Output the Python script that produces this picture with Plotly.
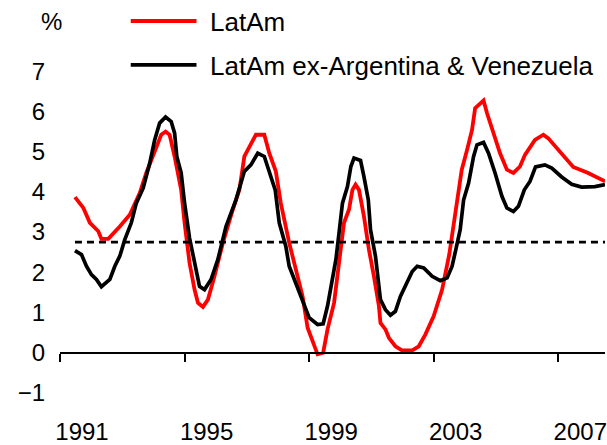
import plotly.graph_objects as go

# ---- data ----
series_names = ["LatAm", "LatAm ex-Argentina & Venezuela"]
series_colors = ["#FF0000", "#000000"]

latam_years = [1991.48, 1991.75, 1991.96, 1992.23, 1992.33, 1992.55, 1992.92, 1993.24, 1993.56, 1993.77,
               1994.04, 1994.25, 1994.39, 1994.52, 1994.68, 1994.89, 1995.00, 1995.16, 1995.32, 1995.43,
               1995.59, 1995.75, 1995.96, 1996.23, 1996.55, 1996.76, 1996.92, 1997.13, 1997.29, 1997.56,
               1997.72, 1997.93, 1998.09, 1998.36, 1998.57, 1998.79, 1998.95, 1999.16, 1999.27, 1999.45,
               1999.59, 1999.80, 1999.96, 2000.12, 2000.28, 2000.39, 2000.49, 2000.60, 2000.76, 2000.92,
               2001.08, 2001.24, 2001.29, 2001.45, 2001.56, 2001.77, 2001.98, 2002.31, 2002.52, 2002.73,
               2003.00, 2003.27, 2003.50, 2003.69, 2003.90, 2004.07, 2004.23, 2004.33, 2004.49, 2004.60,
               2004.71, 2004.92, 2005.13, 2005.35, 2005.56, 2005.77, 2005.93, 2006.25, 2006.52, 2006.68,
               2007.11, 2007.48, 2007.96, 2008.50]
latam_values = [3.87, 3.60, 3.23, 3.02, 2.83, 2.83, 3.14, 3.43, 3.97, 4.47,
                5.00, 5.42, 5.50, 5.42, 4.88, 4.05, 3.23, 2.23, 1.57, 1.24,
                1.14, 1.32, 1.90, 2.73, 3.56, 4.05, 4.88, 5.17, 5.42, 5.42,
                4.96, 4.51, 3.72, 2.73, 2.07, 1.40, 0.62, 0.21, -0.04, 0.00,
                0.58, 1.24, 2.23, 3.23, 3.56, 4.05, 4.18, 4.05, 3.39, 2.56,
                1.90, 1.16, 0.74, 0.58, 0.37, 0.16, 0.06, 0.06, 0.16, 0.45,
                0.91, 1.57, 2.45, 3.39, 4.55, 5.04, 5.54, 6.08, 6.19, 6.27,
                5.96, 5.46, 4.96, 4.55, 4.47, 4.63, 4.92, 5.29, 5.42, 5.33,
                4.96, 4.62, 4.47, 4.26]

exarg_years = [1991.48, 1991.69, 1991.85, 1992.01, 1992.17, 1992.33, 1992.60, 1992.76, 1992.92, 1993.08,
               1993.29, 1993.45, 1993.67, 1993.88, 1994.04, 1994.20, 1994.39, 1994.57, 1994.68, 1994.75,
               1994.89, 1995.00, 1995.16, 1995.32, 1995.48, 1995.64, 1995.85, 1996.07, 1996.33, 1996.65,
               1996.92, 1997.13, 1997.35, 1997.56, 1997.72, 1997.91, 1998.04, 1998.25, 1998.36, 1998.57,
               1998.79, 1999.00, 1999.27, 1999.45, 1999.59, 1999.75, 1999.86, 1999.96, 2000.07, 2000.23,
               2000.34, 2000.44, 2000.65, 2000.76, 2000.90, 2000.97, 2001.13, 2001.29, 2001.45, 2001.61,
               2001.77, 2001.93, 2002.15, 2002.31, 2002.47, 2002.68, 2002.95, 2003.21, 2003.43, 2003.59,
               2003.72, 2003.85, 2003.96, 2004.12, 2004.28, 2004.39, 2004.60, 2004.76, 2004.97, 2005.19,
               2005.35, 2005.56, 2005.72, 2005.91, 2006.09, 2006.27, 2006.57, 2006.79, 2007.11, 2007.43,
               2007.75, 2008.18, 2008.50]
exarg_values = [2.54, 2.44, 2.15, 1.94, 1.82, 1.64, 1.82, 2.15, 2.40, 2.81,
                3.23, 3.72, 4.09, 4.71, 5.29, 5.71, 5.86, 5.75, 5.46, 4.88,
                4.47, 3.72, 2.85, 2.23, 1.65, 1.57, 1.82, 2.32, 3.14, 3.80,
                4.51, 4.67, 4.96, 4.88, 4.47, 4.05, 3.23, 2.65, 2.15, 1.74,
                1.28, 0.87, 0.70, 0.72, 1.16, 1.82, 2.32, 2.98, 3.72, 4.13,
                4.63, 4.84, 4.78, 4.38, 3.80, 3.06, 2.40, 1.32, 1.07, 0.93,
                1.03, 1.40, 1.74, 2.02, 2.15, 2.11, 1.90, 1.79, 1.86, 2.15,
                2.60, 3.06, 3.80, 4.22, 4.88, 5.17, 5.23, 4.96, 4.47, 3.89,
                3.60, 3.51, 3.64, 4.05, 4.26, 4.62, 4.67, 4.59, 4.37, 4.19,
                4.12, 4.13, 4.18]

average_years = [1991.48, 2008.50]
average_values = [2.75, 2.75]

x_tick_years = [1991, 1995, 1999, 2003, 2007]
y_tick_values = [-1, 0, 1, 2, 3, 4, 5, 6, 7]

# ---- figure ----
FONT = "Arial, Liberation Sans, sans-serif"
W, H = 607, 445
y_min, y_max = -1.4, 8.0
x_min, x_max = 1991.0, 2008.5
PX_PER_UNIT = 40.3
LEFT, TOP = 60, 31
plot_w = W - LEFT
plot_h = int(round((y_max - y_min) * PX_PER_UNIT))


def px_to_paper_x(px):
    return (px - LEFT) / plot_w


def px_to_paper_y(py):
    return 1 + (TOP - py) / plot_h


fig = go.Figure()
fig.add_trace(go.Scatter(x=latam_years, y=latam_values, mode="lines", name=series_names[0],
                         line=dict(color=series_colors[0], width=3.8)))
fig.add_trace(go.Scatter(x=exarg_years, y=exarg_values, mode="lines", name=series_names[1],
                         line=dict(color=series_colors[1], width=3.7)))
fig.add_trace(go.Scatter(x=average_years, y=average_values, mode="lines", name="Average",
                         line=dict(color="#000000", width=2.6, dash="7px,5px")))
# invisible trace so the zero-line axis (xaxis2) is drawn
fig.add_trace(go.Scatter(x=[x_min], y=[None], xaxis="x2", showlegend=False, hoverinfo="skip"))

zero_frac = (0 - y_min) / (y_max - y_min)

# legend drawn as line samples + text (placed like the reference)
legend_rows_py = [21, 65]
shapes, annotations = [], []
for name, color, py, lw in zip(series_names, series_colors, legend_rows_py, [4, 3.8]):
    shapes.append(dict(type="line", xref="paper", yref="paper",
                       x0=px_to_paper_x(131), x1=px_to_paper_x(197),
                       y0=px_to_paper_y(py), y1=px_to_paper_y(py),
                       line=dict(color=color, width=lw)))
    annotations.append(dict(text=name, xref="paper", yref="paper",
                            x=px_to_paper_x(209), y=px_to_paper_y(py + 1),
                            xanchor="left", yanchor="middle", showarrow=False,
                            font=dict(family=FONT, size=26, color="#000000")))
annotations.append(dict(text="%", xref="paper", yref="paper", x=px_to_paper_x(51), y=px_to_paper_y(21),
                        xanchor="center", yanchor="middle",
                        showarrow=False, font=dict(family=FONT, size=24, color="#000000")))

fig.update_layout(
    width=W, height=H,
    margin=dict(l=LEFT, r=0, t=TOP, b=H - TOP - plot_h),
    paper_bgcolor="white", plot_bgcolor="white",
    font=dict(family=FONT, size=24, color="#000000"),
    showlegend=False,
    xaxis=dict(range=[x_min, x_max], tickvals=x_tick_years, ticktext=[str(v) for v in x_tick_years],
               showline=False, showgrid=False, zeroline=False, ticks="",
               ticklabelshift=22, ticklabelstandoff=6, ticklabeloverflow="allow",
               tickfont=dict(family=FONT, size=24, color="#000000")),
    xaxis2=dict(range=[x_min, x_max], overlaying="x", matches="x", anchor="free", position=zero_frac,
                side="bottom", showline=True, linecolor="#000000", linewidth=2,
                ticks="outside", ticklen=8, tickwidth=2, tickcolor="#000000",
                tickvals=x_tick_years, showticklabels=False, showgrid=False, zeroline=False),
    yaxis=dict(range=[y_min, y_max], tickvals=y_tick_values, showline=False, showgrid=False,
               zeroline=False, ticks="", ticklabelstandoff=14,
               tickfont=dict(family=FONT, size=24, color="#000000")),
    shapes=shapes,
    annotations=annotations,
)

fig.write_html("out.html")
